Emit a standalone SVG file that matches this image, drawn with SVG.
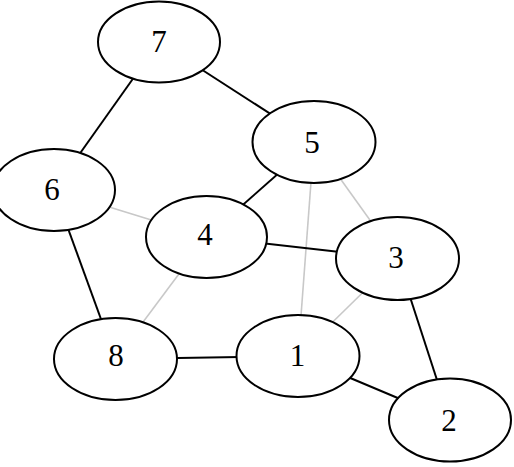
<svg xmlns="http://www.w3.org/2000/svg" width="514" height="467" viewBox="0 0 514 467">
<style>
.e{stroke:#000;stroke-width:2;fill:none}
.g{stroke:#c8c8c8;stroke-width:1.6;fill:none}
.n ellipse{fill:#fff;stroke:#000;stroke-width:2}
.n text{font-family:"Liberation Serif","Times New Roman",serif;font-size:31px;text-anchor:middle;fill:#000}
</style>
<rect width="514" height="467" fill="#fff"/>
<g id="edges">
<line class="g" x1="54" y1="190" x2="206.5" y2="237"/>
<line class="g" x1="314" y1="142" x2="298" y2="356"/>
<line class="g" x1="314" y1="142" x2="397.5" y2="258.5"/>
<line class="g" x1="206.5" y1="237" x2="115.5" y2="359"/>
<line class="g" x1="397.5" y1="258.5" x2="298" y2="356"/>
<line class="e" x1="159" y1="42" x2="54" y2="190"/>
<line class="e" x1="159" y1="42" x2="314" y2="142"/>
<line class="e" x1="314" y1="142" x2="206.5" y2="237"/>
<line class="e" x1="206.5" y1="237" x2="397.5" y2="258.5"/>
<line class="e" x1="54" y1="190" x2="115.5" y2="359"/>
<line class="e" x1="115.5" y1="359" x2="298" y2="356"/>
<line class="e" x1="298" y1="356" x2="450" y2="420"/>
<line class="e" x1="397.5" y1="258.5" x2="450" y2="420"/>
</g>
<g id="node7" class="n"><ellipse cx="159" cy="42" rx="61" ry="40.5"/><text x="159" y="52">7</text></g>
<g id="node5" class="n"><ellipse cx="314" cy="142" rx="61.5" ry="41"/><text x="312" y="153">5</text></g>
<g id="node6" class="n"><ellipse cx="54" cy="190" rx="61" ry="41"/><text x="52" y="200">6</text></g>
<g id="node4" class="n"><ellipse cx="206.5" cy="237" rx="60.5" ry="41"/><text x="205" y="245">4</text></g>
<g id="node3" class="n"><ellipse cx="397.5" cy="258.5" rx="61.5" ry="41.5"/><text x="396" y="268">3</text></g>
<g id="node8" class="n"><ellipse cx="115.5" cy="359" rx="61.5" ry="41"/><text x="116" y="366">8</text></g>
<g id="node1" class="n"><ellipse cx="298" cy="356" rx="61.5" ry="41"/><text x="297.5" y="366">1</text></g>
<g id="node2" class="n"><ellipse cx="450" cy="420" rx="61" ry="41.5"/><text x="449" y="431">2</text></g>
</svg>
